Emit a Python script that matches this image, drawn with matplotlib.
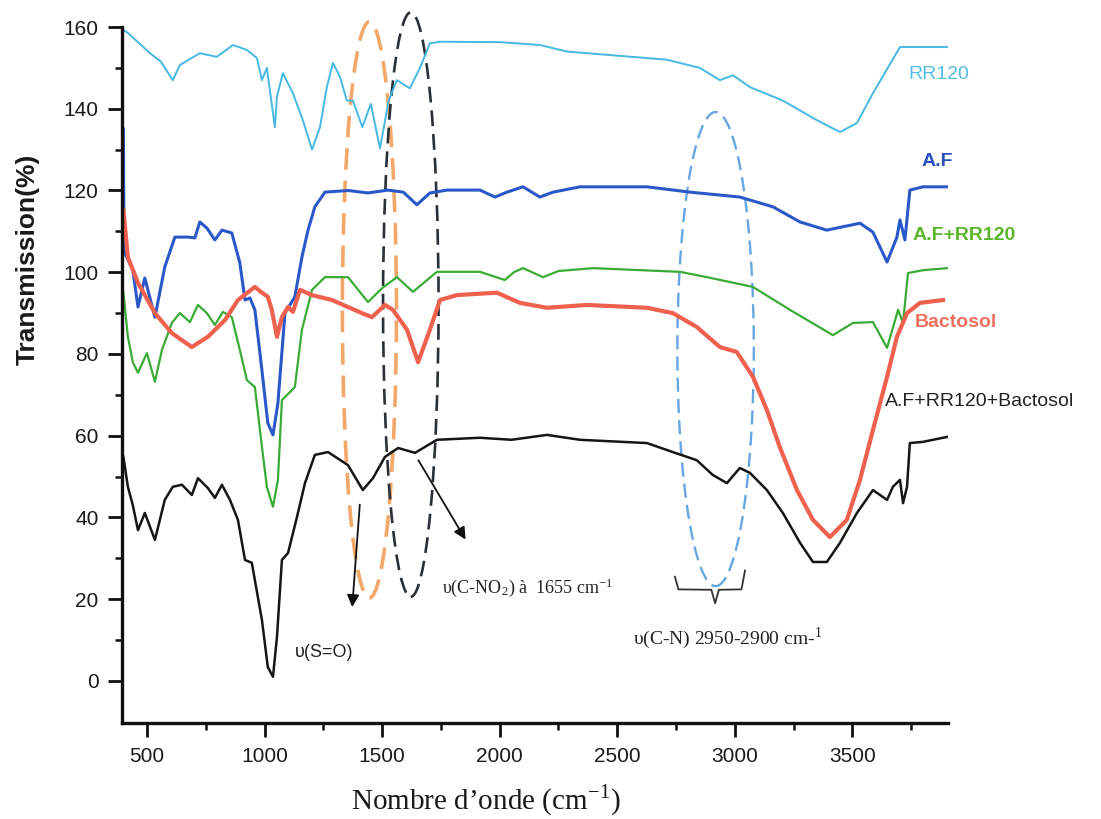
import matplotlib
matplotlib.use("Agg")
import matplotlib.pyplot as plt
from matplotlib.patches import Ellipse
from matplotlib.ticker import FixedLocator
import numpy as np

plt.rcParams['mathtext.fontset'] = 'stix'

# ---------------- data (wavenumber cm-1, transmission %) ----------------
rr120_pts = [(400,159.3),(420,158.5),(513,153.6),(560,151.5),(610,147),(640,150.7),(725,153.6),
             (797,152.7),(866,155.6),(925,154.4),(968,152.4),(989,147),(1010,150),(1044,135.5),
             (1053,143),(1078,148.7),(1121,143.8),(1163,137.2),(1202,130),(1236,135.5),(1265,145.3),
             (1291,151.2),(1321,147.8),(1350,142),(1376,142),(1416,135.5),(1452,141.2),(1491,130.3),
             (1528,142),(1563,147),(1618,145),(1661,150),(1703,156),(1746,156.4),(2001,156.3),
             (2171,155.6),(2286,154),(2499,153),(2711,152),(2851,150),(2936,147),(2992,148.2),
             (3064,145.3),(3204,142),(3349,137.2),(3447,134.3),(3519,136.5),(3587,143.8),
             (3702,155.1),(3902,155.1)]

af_pts = [(400,135),(402,112),(406,104.7),(440,100.5),(462,91.5),(491,98.6),(534,89),(576,101.3),
          (619,108.6),(674,108.6),(704,108.4),(725,112.3),(755,110.8),(789,107.9),(819,110.3),
          (861,109.6),(895,102.3),(917,93.2),(938,93.7),(959,90.8),(989,76),(1014,63.1),(1036,60.2),
          (1057,68),(1087,90),(1129,94),(1159,103.7),(1185,110.3),(1214,116),(1257,119.6),(1355,120),
          (1440,119.4),(1525,120.1),(1590,119.6),(1648,116.5),(1703,119.4),(1776,120.1),(1916,120.1),
          (1980,118.4),(2031,119.6),(2099,120.9),(2171,118.4),(2227,119.6),(2341,120.9),(2626,120.9),
          (2809,119.6),(3021,118.4),(3162,116),(3277,112.3),(3391,110.3),(3532,112),(3587,109.8),
          (3647,102.5),(3689,108.6),(3702,112.8),(3723,107.9),(3744,120.1),(3800,120.9),(3902,120.9)]

af_rr120_pts = [(400,95),(419,84.2),(440,78),(462,75.4),(500,80.2),(534,73.2),(564,81),(606,87.6),
                (640,90),(683,87.8),(717,92),(755,90),(789,87.1),(823,90.3),(861,89),(895,81),
                (925,73.6),(959,71.9),(989,57.3),(1010,47.5),(1036,42.6),(1057,49.2),(1074,68.7),
                (1129,71.9),(1159,85.9),(1202,95.7),(1257,98.8),(1355,98.8),(1440,92.7),(1500,96.1),
                (1563,98.8),(1631,95.2),(1733,100.1),(1916,100.1),(2022,98.1),(2060,100),(2099,101),
                (2184,98.8),(2250,100.3),(2397,101),(2766,100.1),(2881,98.8),(3077,96.4),(3234,90.8),
                (3417,84.6),(3502,87.6),(3587,87.8),(3647,81.5),(3694,90.8),(3715,87.6),(3736,99.8),
                (3800,100.5),(3902,101)]

bactosol_pts = [(400,115.2),(419,103.7),(462,97.4),(534,90),(606,85.1),(691,81.7),(759,84.2),
                (832,88.3),(887,93.2),(959,96.4),(989,95),(1014,94),(1031,90.8),(1053,84.2),
                (1074,89),(1100,91.5),(1121,90.3),(1151,95.7),(1202,94.4),(1287,93.2),(1414,90),
                (1457,89),(1512,92),(1546,90.8),(1606,85.9),(1653,78),(1703,85.9),(1746,93.2),
                (1818,94.4),(1988,95),(2086,92.5),(2201,91.3),(2371,92),(2626,91.3),(2736,90),
                (2838,86.6),(2936,81.7),(3008,80.5),(3077,74.4),(3136,66.3),(3191,57.2),(3264,46.7),
                (3332,39.4),(3404,35.2),(3476,39.4),(3532,49.2),(3587,61.4),(3647,74.4),(3689,84.2),
                (3732,90),(3787,92.5),(3885,93.2)]

mix_pts = [(400,54.8),(419,47.5),(440,43),(462,36.9),(491,41.1),(534,34.5),(576,44.3),(610,47.5),
           (649,48),(691,45.5),(717,49.6),(759,47.2),(789,44.8),(819,48),(853,44.3),(887,39.4),
           (917,29.6),(946,28.9),(989,14.9),(1014,3.4),(1036,1),(1053,10.8),(1074,29.6),(1100,31.3),
           (1138,40.1),(1172,48.4),(1214,55.3),(1270,56),(1355,52.8),(1418,46.7),(1461,49.6),
           (1512,54.8),(1568,57),(1640,55.8),(1733,59),(1916,59.5),(2050,59),(2201,60.2),(2341,59),
           (2626,58.2),(2736,56),(2838,54),(2906,50.4),(2966,48.4),(3021,52.1),(3064,50.9),
           (3136,46.7),(3204,41.1),(3277,33.8),(3332,29.1),(3391,29.1),(3447,33.8),(3519,41.1),
           (3587,46.7),(3647,44.3),(3672,47.5),(3702,49.2),(3715,43.5),(3732,47.5),(3744,58.2),
           (3800,58.5),(3902,59.7)]

series_names = ["RR120", "A.F", "A.F+RR120", "Bactosol", "A.F+RR120+Bactosol"]
x_ticks = [500, 1000, 1500, 2000, 2500, 3000, 3500]
y_ticks = [0, 20, 40, 60, 80, 100, 120, 140, 160]

# ---------------- figure ----------------
fig = plt.figure(figsize=(11.01, 8.19), dpi=100)
ax = fig.add_axes([0.1108, 0.1172, 0.7502, 0.8498])

def xy(pts):
    a = np.array(pts, dtype=float)
    return a[:, 0], a[:, 1]

styles = [
    (rr120_pts, '#45b9e2', 1.4),
    (af_pts, '#2b58c9', 2.2),
    (af_rr120_pts, '#3aab35', 1.6),
    (bactosol_pts, '#f0604e', 3.0),
    (mix_pts, '#151515', 1.8),
]
for pts, c, lw in styles:
    x, y = xy(pts)
    ax.plot(x, y, color=c, lw=lw, solid_joinstyle='round')

ax.set_xlim(394, 3906)
ax.set_ylim(-10.3, 160)
ax.xaxis.set_major_locator(FixedLocator(x_ticks))
ax.xaxis.set_minor_locator(FixedLocator([750, 1250, 1750, 2250, 2750, 3250, 3750]))
ax.yaxis.set_major_locator(FixedLocator(y_ticks))
ax.yaxis.set_minor_locator(FixedLocator([10, 30, 50, 70, 90, 110, 130, 150]))

for s in ['top', 'right']:
    ax.spines[s].set_visible(False)
for s in ['left', 'bottom']:
    ax.spines[s].set_linewidth(2.4)
    ax.spines[s].set_color('#111111')

ax.tick_params(axis='both', which='major', direction='out', length=10, width=2,
               color='#111111', pad=7, labelsize=15, labelcolor='#1a1a1a')
ax.tick_params(axis='both', which='minor', direction='out', length=5, width=1.8,
               color='#111111')
for lab in ax.get_xticklabels() + ax.get_yticklabels():
    lab.set_fontfamily('Liberation Sans')

# axis labels
fig.text(0.025, 1 - 259/819, 'Transmission(%)', rotation=90, ha='center', va='center',
         fontsize=19, fontweight='bold', family='Liberation Sans', color='#1a1a1a')
fig.text(486/1101, 1 - 801/819, r'Nombre d’onde (cm$^{\mathregular{-1}}$)', ha='center', va='center',
         fontsize=21, family='Liberation Serif', color='#1a1a1a')

# series labels
lab_kw = dict(ha='left', va='center', family='Liberation Sans', fontsize=14)
ax.text(3736, 148.3, series_names[0], color='#55bde2', **lab_kw)
ax.text(3795, 127, series_names[1], color='#2a50c0', fontweight='bold', **lab_kw)
ax.text(3757, 109.1, series_names[2], color='#5ab52a', fontweight='bold', **lab_kw)
ax.text(3766, 87.6, series_names[3], color='#f07060', fontweight='bold', **lab_kw)
ax.text(3638, 68.3, series_names[4], color='#222222', **lab_kw)

# dashed ellipses
ax.add_patch(Ellipse((1446, 90.8), 230, 141, fill=False, ec='#f3a86a', lw=2.6,
                     ls=(0, (6, 3)), clip_on=False))
ax.add_patch(Ellipse((1622, 92.1), 236, 143, fill=False, ec='#2a3038', lw=1.9,
                     ls=(0, (6, 3)), clip_on=False))
ax.add_patch(Ellipse((2918, 81.2), 325, 116, fill=False, ec='#66a6e2', lw=1.7,
                     ls=(0, (6, 3)), clip_on=False))

# arrows
ax.annotate('', xy=(1372, 17.4), xytext=(1406, 43.8),
            arrowprops=dict(arrowstyle='-|>', color='#111111', lw=1.3, mutation_scale=18))
ax.annotate('', xy=(1861, 34), xytext=(1648, 54.6),
            arrowprops=dict(arrowstyle='-|>', color='#111111', lw=1.3, mutation_scale=18))

# brace under the C-N ellipse
ax.plot([2745, 2760, 2900, 2916, 2932, 3028, 3043],
        [25.5, 22.4, 22.3, 19.0, 22.3, 22.4, 27.0], color='#333333', lw=1.3, clip_on=False)

# annotation texts
ax.text(1129, 6.9, 'υ(S=O)', ha='left', va='center', family='Liberation Sans',
        fontsize=13, color='#222222')
ax.text(1754, 22.8, r'υ(C-NO$_\mathregular{2}$) à  1655 cm$^{\mathregular{-1}}$', ha='left', va='center',
        family='Liberation Serif', fontsize=13, color='#222222')
ax.text(2566, 10.5, r'υ(C-N) 2950-2900 cm-$^{\mathregular{1}}$', ha='left', va='center',
        family='Liberation Serif', fontsize=14, color='#222222')

fig.savefig('out.png', dpi=100, facecolor='white')
